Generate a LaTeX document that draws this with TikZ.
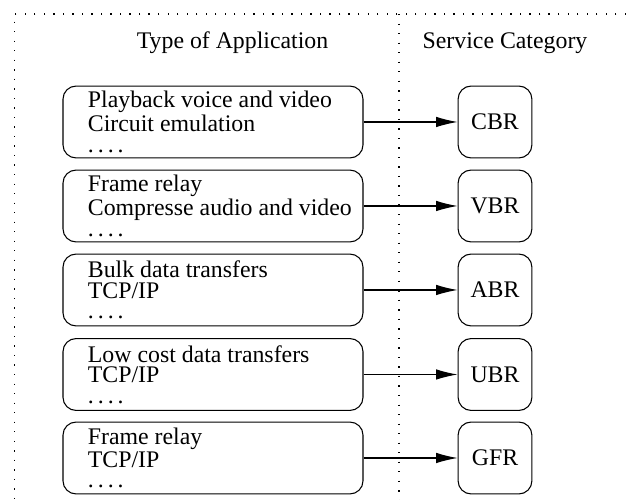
\documentclass[tikz,border=0pt]{standalone}
\usepackage{fontspec}
\setmainfont{Liberation Serif}
\usetikzlibrary{calc}
\usetikzlibrary{positioning}
\usetikzlibrary{arrows.meta}

\begin{document}
\begin{tikzpicture}[scale=0.738,
		appbox/.style={draw, rounded corners=5.5pt, minimum width=126pt, minimum height=30.2pt, inner sep=0pt, line width=0.45pt},
		catbox/.style={draw, rounded corners=5.5pt, minimum width=31pt, minimum height=30.2pt, inner sep=0pt, line width=0.45pt},
		apptext/.style={anchor=west, align=left, inner sep=0pt, font=\fontsize{10}{8.6}\selectfont},
		sep/.style={line width=0.55pt, dash pattern=on 0.55pt off 3.45pt},
		link/.style={-{Latex[length=9pt, width=4.4pt]}, line width=0.45pt}]
			\useasboundingbox (0, 0) rectangle (12.52, 10);
			\draw[sep] (12.52, 9.72) -- (0.29, 9.72) -- (0.29, 0);
			\draw[sep] (7.98, 9.72) -- (7.98, 0);
			\node[anchor=base] (apphead) at (4.65, 9.02) {Type of Application};
			\node[anchor=base] (cathead) at (10.1, 9.02) {Service Category};
			% applications
			\node[appbox] (app1) at (4.26, 7.56) {};
			\node[apptext, right=10.5pt of app1.west] (txt1) {Playback voice and video\\Circuit emulation\\.\,.\,.\,.};
			\node[appbox] (app2) at (4.26, 5.88) {};
			\node[apptext, right=10.5pt of app2.west] (txt2) {Frame relay\\Compresse audio and video\\.\,.\,.\,.};
			\node[appbox] (app3) at (4.26, 4.2) {};
			\node[apptext, right=10.5pt of app3.west] (txt3) {Bulk data transfers\\TCP/IP\\.\,.\,.\,.};
			\node[appbox] (app4) at (4.26, 2.51) {};
			\node[apptext, right=10.5pt of app4.west] (txt4) {Low cost data transfers\\TCP/IP\\.\,.\,.\,.};
			\node[appbox] (app5) at (4.26, 0.84) {};
			\node[apptext, right=10.5pt of app5.west] (txt5) {Frame relay\\TCP/IP\\.\,.\,.\,.};
			% categories
			\node[catbox] (cbr) at (9.9, 7.56) {CBR};
			\node[catbox] (vbr) at (9.9, 5.88) {VBR};
			\node[catbox] (abr) at (9.9, 4.2) {ABR};
			\node[catbox] (ubr) at (9.9, 2.51) {UBR};
			\node[catbox] (gfr) at (9.9, 0.84) {GFR};
			\draw[link] (app1.east) -- (cbr.west);
			\draw[link] (app2.east) -- (vbr.west);
			\draw[link] (app3.east) -- (abr.west);
			\draw[link] (app4.east) -- (ubr.west);
			\draw[link] (app5.east) -- (gfr.west);
		\end{tikzpicture}
\end{document}
